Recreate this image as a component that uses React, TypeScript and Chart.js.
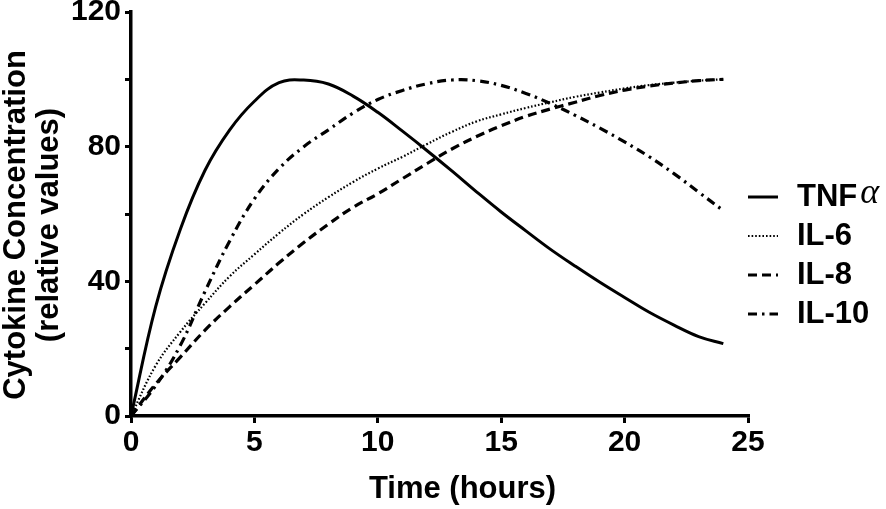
import { useEffect, useRef } from 'react'
import { Chart, registerables } from 'chart.js'

Chart.register(...registerables)

// hours 0..24, values
const hours = [0, 1, 2, 3, 4, 5, 6, 7, 8, 9, 10, 11, 12, 13, 14, 15, 16, 17, 18, 19, 20, 21, 22, 23, 24]
const tnfAlpha = [0, 32.5, 55.5, 73, 85, 93.5, 99, 99.8, 98.6, 95, 90.2, 84.6, 78.8, 72.8, 66.6, 60.6, 55, 49.5, 44.5, 39.7, 35.2, 30.8, 27, 23.6, 21.5]
const il6 = [0, 15, 25, 33.5, 41.5, 48, 54.3, 60, 65, 69.5, 73.5, 77, 80.8, 84.4, 87.5, 89.6, 91.5, 93.2, 94.8, 96.1, 97.3, 98.3, 99, 99.6, 100]
const il8 = [0, 9.5, 17.5, 25.5, 32.5, 39, 45.5, 51.5, 57, 62, 66, 70.5, 75, 79.3, 83, 86.2, 89, 91.2, 93.2, 95.2, 96.8, 98, 98.9, 99.6, 100]
const il10 = [0, 9, 21, 37, 52, 64.5, 73.5, 80, 85, 90, 94, 96.7, 98.7, 99.8, 99.6, 98.2, 95.8, 92.8, 89.3, 85.5, 81.4, 77, 72, 66.5, 61]

const xTitle = 'Time (hours)'
const yTitle = ['Cytokine Concentration', '(relative values)']

const FONT = "'Liberation Sans', Arial, sans-serif"

const series = [
  { label: 'TNFα', values: tnfAlpha, dash: [] as number[], width: 3 },
  { label: 'IL-6', values: il6, dash: [1.6, 2], width: 2.2 },
  { label: 'IL-8', values: il8, dash: [9, 5], width: 3.2 },
  { label: 'IL-10', values: il10, dash: [9, 5, 2.5, 5], width: 3.2 },
]

// axis titles (offset like the original figure) and the legend on the right
const extras = {
  id: 'extras',
  afterDraw(chart: any) {
    const { ctx, chartArea } = chart
    ctx.save()
    ctx.fillStyle = '#000'

    // x title
    ctx.font = `bold 31px ${FONT}`
    ctx.textAlign = 'center'
    ctx.textBaseline = 'alphabetic'
    ctx.fillText(xTitle, (chartArea.left + chartArea.right) / 2 + 23, chart.height - 11)

    // y title, two rotated lines
    const cy = (chartArea.top + chartArea.bottom) / 2 + 11
    ;[25, 58].forEach((bx, i) => {
      ctx.save()
      ctx.translate(bx, cy)
      ctx.rotate(-Math.PI / 2)
      ctx.fillText(yTitle[i], 0, 0)
      ctx.restore()
    })

    // legend
    const top = chartArea.top + 185
    const gap = 39
    chart.data.datasets.forEach((ds: any, i: number) => {
      const y = top + i * gap
      const x0 = chartArea.right
      ctx.beginPath()
      ctx.setLineDash(ds.borderDash || [])
      ctx.lineWidth = ds.borderWidth
      ctx.strokeStyle = '#000'
      ctx.moveTo(x0, y)
      ctx.lineTo(x0 + 30, y)
      ctx.stroke()
      ctx.setLineDash([])
      ctx.textBaseline = 'middle'
      ctx.textAlign = 'left'
      const tx = x0 + 49
      let label: string = ds.label
      ctx.font = `bold 31px ${FONT}`
      if (label.endsWith('α')) {
        label = label.slice(0, -1)
        ctx.fillText(label, tx, y)
        const w = ctx.measureText(label).width
        ctx.font = "italic 36px 'Liberation Serif', 'DejaVu Serif', serif"
        ctx.fillText('α', tx + w + 3, y - 3)
      } else {
        ctx.fillText(label, tx, y)
      }
    })
    ctx.restore()
  },
}

export default function App() {
  const canvasRef = useRef<HTMLCanvasElement>(null)

  useEffect(() => {
    document.body.style.margin = '0'
    if (!canvasRef.current) return
    const chart = new Chart(canvasRef.current, {
      type: 'line',
      data: {
        datasets: series.map(s => ({
          label: s.label,
          data: hours.map((h, i) => ({ x: h, y: s.values[i] })),
          borderColor: '#000',
          borderWidth: s.width,
          borderDash: s.dash,
          pointRadius: 0,
          tension: 0.4,
          fill: false,
        })),
      },
      options: {
        responsive: false,
        animation: false,
        layout: { autoPadding: false, padding: { left: 0, right: 138, top: 12, bottom: 0 } },
        scales: {
          x: {
            type: 'linear',
            min: 0,
            max: 25,
            afterFit: (scale: any) => {
              scale.height = 93
              scale.paddingLeft = 0
              scale.paddingRight = 0
            },
            border: { color: '#000', width: 3.5 },
            grid: { drawOnChartArea: false, color: '#000', lineWidth: 3, tickLength: 7 },
            ticks: {
              stepSize: 5,
              color: '#000',
              padding: 2,
              maxRotation: 0,
              font: { family: FONT, size: 30, weight: 'bold' },
            },
          },
          y: {
            min: 0,
            max: 120,
            afterFit: (scale: any) => {
              scale.width = 131
              scale.paddingTop = 0
              scale.paddingBottom = 0
            },
            border: { color: '#000', width: 3.5 },
            grid: { drawOnChartArea: false, color: '#000', lineWidth: 3, tickLength: 6 },
            ticks: {
              stepSize: 20,
              color: '#000',
              padding: 4,
              font: { family: FONT, size: 30, weight: 'bold' },
              callback: (v: any) => (Number(v) % 40 === 0 ? String(v) : ''),
            },
          },
        },
        plugins: {
          legend: { display: false },
          tooltip: { enabled: false },
        },
      },
      plugins: [extras],
    })
    return () => chart.destroy()
  }, [])

  return (
    <div style={{ width: 886, height: 509, background: '#fff' }}>
      <canvas ref={canvasRef} width={886} height={509} style={{ display: 'block' }} />
    </div>
  )
}
